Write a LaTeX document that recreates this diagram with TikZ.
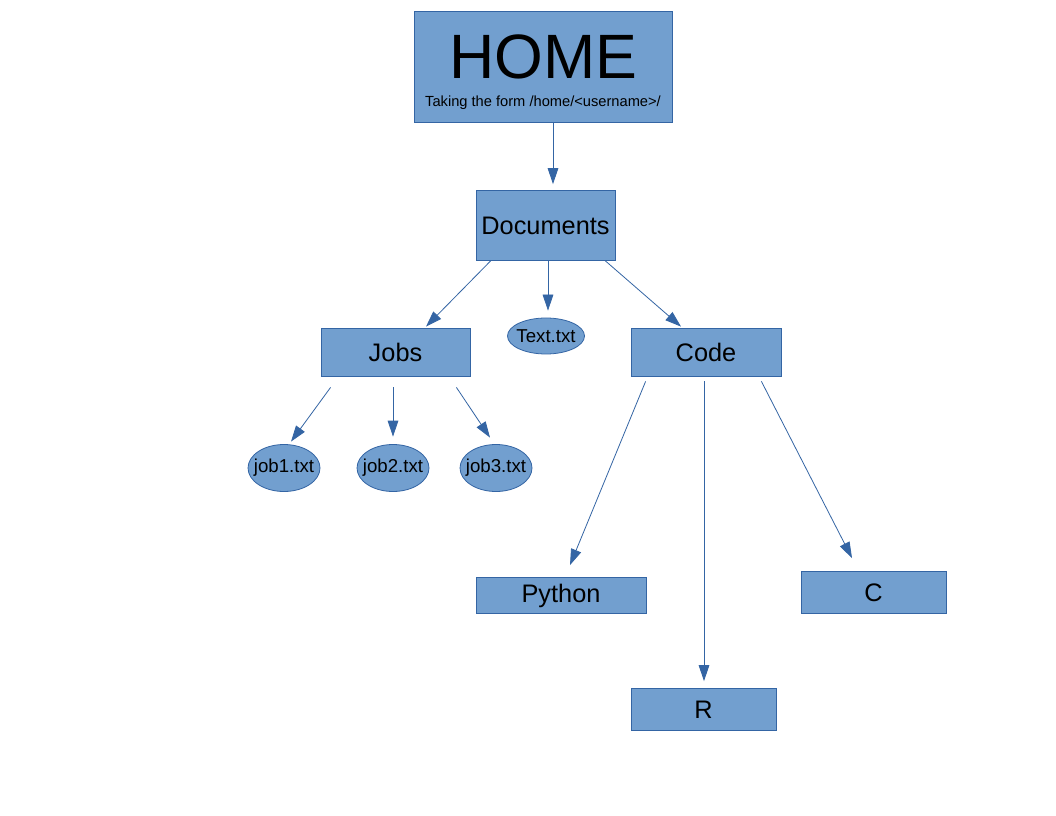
\documentclass[tikz,border=0pt]{standalone}
\usepackage{fontspec}
\setmainfont{Liberation Sans}
\usepackage{xcolor}
\usetikzlibrary{arrows.meta, shapes.geometric, calc}

\definecolor{dirfill}{HTML}{729FCF}
\definecolor{dirline}{HTML}{3465A4}

\newcommand{\fname}[1]{\makebox[0pt]{#1}}

\tikzset{
	dirbox/.style={draw=dirline, fill=dirfill, line width=0.6pt, inner sep=0pt, font=\fontsize{19}{23}\selectfont},
	filebox/.style={ellipse, draw=dirline, fill=dirfill, line width=0.6pt, inner sep=0pt, font=\fontsize{14}{17}\selectfont},
	link/.style={-{Triangle[width=8pt, length=12pt]}, draw=dirline, line width=0.6pt}
}

\begin{document}
\begin{tikzpicture}[x=0.75pt, y=-0.75pt]

\fill[white] (0,0) rectangle (1056,816);
\useasboundingbox (0,0) rectangle (1056,816);

\node[dirbox, minimum width=193.5pt, minimum height=83.25pt] (home) at (543,66.5) {};
\node[font=\fontsize{47}{56}\selectfont] (hometitle) at (543,57) {HOME};
\node[font=\fontsize{11}{13}\selectfont] (homeform) at (543,103) {Taking the form /home/<username>/};

\node[dirbox, minimum width=104.25pt, minimum height=52.5pt] (docs) at (545.5,225.5) {Documents};

\node[dirbox, minimum width=111.75pt, minimum height=36pt] (jobs) at (395.5,352) {Jobs};
\node[filebox, minimum width=57.75pt, minimum height=27pt] (text) at (546,336) {\fname{Text.txt}};
\node[dirbox, minimum width=112.5pt, minimum height=36pt] (code) at (706,352) {Code};

\node[filebox, minimum width=54pt, minimum height=35.25pt] (job1) at (284,468) {\fname{job1.txt}};
\node[filebox, minimum width=54pt, minimum height=35.25pt] (job2) at (393,468) {\fname{job2.txt}};
\node[filebox, minimum width=54pt, minimum height=35.25pt] (job3) at (496,468) {\fname{job3.txt}};

\node[dirbox, minimum width=127.5pt, minimum height=27pt] (python) at (561,595.5) {Python};
\node[dirbox, minimum width=108.75pt, minimum height=31.5pt] (c) at (873.5,592.5) {C};
\node[dirbox, minimum width=108.75pt, minimum height=31.5pt] (r) at (703.5,709.5) {R};

\draw[link] ($(home.south)+(10,0)$) -- ($(docs.north)+(7.5,-6)$);

\draw[link] ($(docs.south west)+(15,0)$) -- ($(jobs.north)+(30.5,-1)$);
\draw[link] ($(docs.south)+(2.5,0)$) -- ($(text.north)+(2,-7)$);
\draw[link] ($(docs.south east)+(-10,0)$) -- ($(code.north)+(-25,-1)$);

\draw[link] ($(jobs.south west)+(10,11)$) -- ($(job1.north)+(7,-2.5)$);
\draw[link] ($(jobs.south)+(-2.5,11)$) -- ($(job2.north)+(0,-7.5)$);
\draw[link] ($(jobs.south east)+(-14,11)$) -- ($(job3.north)+(-6,-6.5)$);

\draw[link] ($(code.south west)+(15,5)$) -- ($(python.north)+(9,-12)$);
\draw[link] ($(code.south)+(-2,5)$) -- ($(r.north)+(0.5,-7)$);
\draw[link] ($(code.south east)+(-20,5)$) -- ($(c.north)+(-21.5,-13)$);

\end{tikzpicture}
\end{document}
